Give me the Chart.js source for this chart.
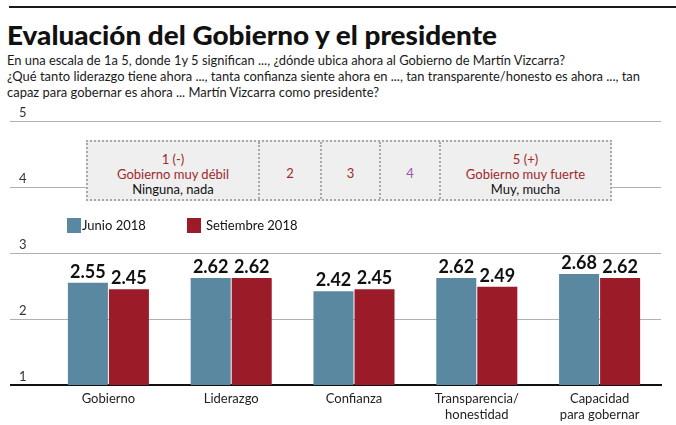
<!DOCTYPE html>
<html>
<head>
<meta charset="utf-8">
<script src="https://cdn.jsdelivr.net/npm/chart.js@4.4.1/dist/chart.umd.min.js"></script>
<style>
  html, body { margin: 0; padding: 0; background: #fff; }
  #wrap { position: relative; width: 676px; height: 425px; overflow: hidden; font-family: Lato, "Noto Sans", sans-serif; color: #111; }
  #rule { position: absolute; left: 9px; right: 0; top: 6px; height: 2px; background: #1a1a1a; }
  .fit { position: absolute; white-space: nowrap; display: inline-block; transform-origin: 0 0; }
  #title { left: 7px; top: 21px; font-size: 27px; font-weight: 900; line-height: 27px; color: #111; }
  .sub { left: 7px; font-size: 13px; line-height: 13px; color: #1a1a1a; }
  #c { position: absolute; left: 0; top: 0; }
  #box { position: absolute; left: 86px; top: 140px; width: 522px; height: 57px; background: #efefef; border: 2px dotted #a8a8a8; }
  .cell { position: absolute; top: 0; height: 57px; border-right: 2px dotted #a8a8a8; box-sizing: content-box; text-align: center; font-size: 13px; }
  .cell:last-child { border-right: none; }
  .ln { position: absolute; left: 0; right: 0; line-height: 13px; white-space: nowrap; }
  .red { color: #a02a2c; }
  .pur { color: #9b58ad; }
  .blk { color: #111; }
  .lg { position: absolute; font-size: 13px; line-height: 13px; color: #111; white-space: nowrap; }
  .sw { position: absolute; width: 14px; height: 15px; }
</style>
</head>
<body>
<div id="wrap">
  <div id="rule"></div>
  <div id="title" class="fit" data-w="490">Evaluación del Gobierno y el presidente</div>
  <div class="sub fit" style="top:54px" data-w="558">En una escala de 1a 5, donde 1y 5 significan ..., ¿dónde ubica ahora al Gobierno de Martín Vizcarra?</div>
  <div class="sub fit" style="top:70px" data-w="633">¿Qué tanto liderazgo tiene ahora ..., tanta confianza siente ahora en ..., tan transparente/honesto es ahora ..., tan</div>
  <div class="sub fit" style="top:86px" data-w="372">capaz para gobernar es ahora ... Martín Vizcarra como presidente?</div>
  <canvas id="c" width="676" height="425"></canvas>
  <div id="box">
    <div class="cell" style="left:0;width:170px">
      <div class="ln red" style="top:11px">1 (-)</div>
      <div class="ln red" style="top:26px">Gobierno muy débil</div>
      <div class="ln blk" style="top:41px">Ninguna, nada</div>
    </div>
    <div class="cell" style="left:172px;width:60px">
      <div class="ln red" style="top:25px">2</div>
    </div>
    <div class="cell" style="left:234px;width:57px">
      <div class="ln red" style="top:25px">3</div>
    </div>
    <div class="cell" style="left:293px;width:58px">
      <div class="ln pur" style="top:25px">4</div>
    </div>
    <div class="cell" style="left:353px;width:169px">
      <div class="ln red" style="top:11px">5 (+)</div>
      <div class="ln red" style="top:26px">Gobierno muy fuerte</div>
      <div class="ln blk" style="top:41px">Muy, mucha</div>
    </div>
  </div>
  <div id="legend"></div>
</div>
<script>
const categories = ['Gobierno', 'Liderazgo', 'Confianza', ['Transparencia/', 'honestidad'], ['Capacidad', 'para gobernar']];
const junio2018 = [2.55, 2.62, 2.42, 2.62, 2.68];
const setiembre2018 = [2.45, 2.62, 2.45, 2.49, 2.62];
const seriesNames = ['Junio 2018', 'Setiembre 2018'];
const seriesColors = ['#5b88a1', '#9c1b29'];
const yTicks = [1, 2, 3, 4, 5];

// fit condensed text widths
document.querySelectorAll('.fit').forEach(el => {
  const w = el.getBoundingClientRect().width;
  el.style.transform = 'scaleX(' + (parseFloat(el.dataset.w) / w) + ')';
});

// legend (HTML)
const legendPos = [[67, 82], [187, 206]];
const lg = document.getElementById('legend');
seriesNames.forEach((name, i) => {
  const sw = document.createElement('div');
  sw.className = 'sw';
  sw.style.left = legendPos[i][0] + 'px';
  sw.style.top = '218px';
  sw.style.background = seriesColors[i];
  lg.appendChild(sw);
  const t = document.createElement('div');
  t.className = 'lg';
  t.style.left = legendPos[i][1] + 'px';
  t.style.top = '219px';
  t.textContent = name;
  lg.appendChild(t);
});

const valueLabels = {
  id: 'valueLabels',
  afterDatasetsDraw(chart) {
    const ctx = chart.ctx;
    ctx.save();
    ctx.font = 'bold 18px Lato';
    ctx.fillStyle = '#111';
    ctx.textAlign = 'center';
    ctx.textBaseline = 'alphabetic';
    chart.data.datasets.forEach((ds, i) => {
      chart.getDatasetMeta(i).data.forEach((bar, j) => {
        ctx.fillText(ds.data[j].toFixed(2), bar.x, bar.y - 5);
      });
    });
    ctx.restore();
  }
};

Chart.defaults.font.family = 'Lato';

new Chart(document.getElementById('c'), {
  type: 'bar',
  data: {
    labels: categories,
    datasets: [
      { label: seriesNames[0], data: junio2018, backgroundColor: seriesColors[0], categoryPercentage: 0.668, barPercentage: 0.976 },
      { label: seriesNames[1], data: setiembre2018, backgroundColor: seriesColors[1], categoryPercentage: 0.668, barPercentage: 0.976 }
    ]
  },
  options: {
    responsive: false,
    animation: false,
    layout: { padding: { top: 121, left: 19, right: 15, bottom: 0 } },
    plugins: { legend: { display: false }, tooltip: { enabled: false } },
    scales: {
      x: {
        grid: { display: false, drawTicks: false },
        border: { display: true, color: '#111', width: 2 },
        ticks: { font: { size: 13 }, color: '#222', padding: 6, maxRotation: 0, autoSkip: false },
        afterFit(s) { s.height = 40; }
      },
      y: {
        min: 1, max: 5,
        afterBuildTicks(s) { s.ticks = yTicks.map(v => ({ value: v })); },
        afterFit(s) { s.width = 28; },
        border: { display: false },
        grid: {
          color: c => (c.tick && c.tick.value === 1) ? '#111' : '#b0b0b0',
          lineWidth: c => (c.tick && c.tick.value === 1) ? 2 : 1,
          tickLength: 37,
          drawTicks: true
        },
        ticks: { crossAlign: 'far', labelOffset: -8, padding: 0, font: { size: 13 }, color: '#333' }
      }
    }
  },
  plugins: [valueLabels]
});
</script>
</body>
</html>
